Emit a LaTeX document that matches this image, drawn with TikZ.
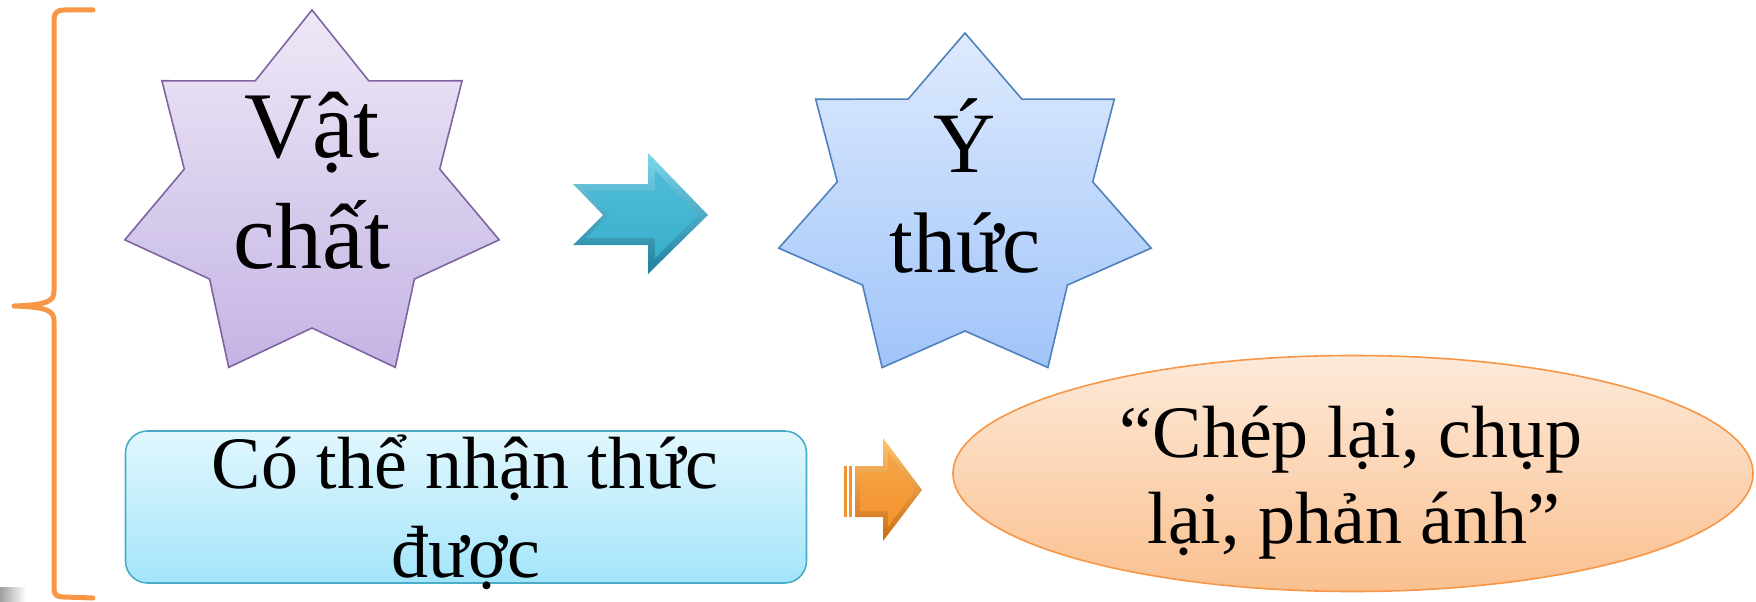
\documentclass[tikz,border=0pt]{standalone}
\usepackage{fontspec}
\setmainfont{Liberation Serif}
\usetikzlibrary{shapes.geometric}
\definecolor{bracec}{RGB}{247,150,70}
\definecolor{sAline}{RGB}{128,100,162}
\definecolor{sAtop}{RGB}{239,232,247}
\definecolor{sAbot}{RGB}{196,180,228}
\definecolor{sBline}{RGB}{79,129,189}
\definecolor{sBtop}{RGB}{222,234,253}
\definecolor{sBbot}{RGB}{160,196,250}
\definecolor{boxline}{RGB}{75,172,198}
\definecolor{boxtop}{RGB}{226,247,254}
\definecolor{boxbot}{RGB}{163,229,250}
\definecolor{elline}{RGB}{247,150,70}
\definecolor{eltop}{RGB}{253,234,218}
\definecolor{elbot}{RGB}{250,192,143}
\definecolor{tealL}{RGB}{125,215,235}
\definecolor{tealM}{RGB}{58,176,206}
\definecolor{tealD}{RGB}{30,128,158}
\definecolor{orL}{RGB}{252,196,110}
\definecolor{orM}{RGB}{243,146,45}
\definecolor{orD}{RGB}{205,108,20}
\tikzset{
  starshape/.style={line width=1.6pt, line join=miter},
  bigtext/.style={anchor=base, inner sep=0pt, font=\fontsize{94pt}{110pt}\selectfont},
  midtext/.style={anchor=base, inner sep=0pt, font=\fontsize{86pt}{100pt}\selectfont},
  smalltext/.style={anchor=base, inner sep=0pt, font=\fontsize{74pt}{88pt}\selectfont},
}
\begin{document}
\begin{tikzpicture}[x=1pt,y=-1pt]
\useasboundingbox (0,0) rectangle (1756,602);

% brace
\draw[bracec, line width=5pt, line cap=round, line join=round]
  (93,10) -- (64,10) .. controls (57,10) and (54,13) .. (54,20)
  -- (54,291) .. controls (54,300) and (50,305) .. (14,306)
  .. controls (50,307) and (54,312) .. (54,321)
  -- (54,589) .. controls (54,595) and (57,597) .. (64,597) -- (93,598);

% grey artefact bottom-left
\path[left color=gray!75, right color=white] (0,587) rectangle (26,602);

% star 1
\path[starshape, draw=sAline, top color=sAtop, bottom color=sAbot]
  plot[samples at={0,...,13}, variable=\k]
  ({312+(131+61*(1-mod(\k,2)))*cos(90+\k*360/14)},
   {198-(130+58*(1-mod(\k,2)))*sin(90+\k*360/14)}) -- cycle;
\node[bigtext] (vA) at (312,157) {Vật};
\node[bigtext] (vB) at (312,268) {chất};

% star 2
\path[starshape, draw=sBline, top color=sBtop, bottom color=sBbot]
  plot[samples at={0,...,13}, variable=\k]
  ({965+(131+60*(1-mod(\k,2)))*cos(90+\k*360/14)},
   {209-(122+54*(1-mod(\k,2)))*sin(90+\k*360/14)}) -- cycle;
\node[midtext] (yA) at (965,172) {Ý};
\node[midtext] (yB) at (965,272) {thức};

% teal arrow
\path[top color=tealL, bottom color=tealD]
  (573,184) -- (648,184) -- (648,153) -- (708,215) -- (648,274)
  -- (648,245) -- (573,245) -- (603,215) -- cycle;
\path[top color=tealM!70!tealL, bottom color=tealM]
  (586,191) -- (655,191) -- (655,170) -- (698,215) -- (655,258)
  -- (655,238) -- (586,238) -- (609,215) -- cycle;

% bottom box
\node[draw=boxline, line width=1.6pt, rounded corners=22pt,
      top color=boxtop, bottom color=boxbot,
      minimum width=681pt, minimum height=152pt, inner sep=0pt] (box) at (466,507) {};
\node[smalltext] (cA) at (465,488) {Có thể nhận thức};
\node[smalltext] (cB) at (466,577) {được};

% orange arrow
\fill[orM] (844,466) rectangle (846.5,517);
\fill[orM] (849,466) rectangle (851.5,517);
\path[top color=orL, bottom color=orD]
  (855,466) -- (883,466) -- (883,438) -- (922,490) -- (883,541)
  -- (883,517) -- (855,517) -- cycle;
\path[top color=orM!60!orL, bottom color=orM]
  (860,472) -- (888,472) -- (888,452) -- (915,490) -- (888,527)
  -- (888,511) -- (860,511) -- cycle;

% ellipse
\node[ellipse, draw=elline, line width=1.6pt, top color=eltop, bottom color=elbot,
      minimum width=800pt, minimum height=236pt, inner sep=0pt] (el) at (1353,473.5) {};
\node[smalltext] (eA) at (1351,457) {“Chép lại, chụp};
\node[smalltext] (eB) at (1354,543) {lại, phản ánh”};
\end{tikzpicture}
\end{document}
